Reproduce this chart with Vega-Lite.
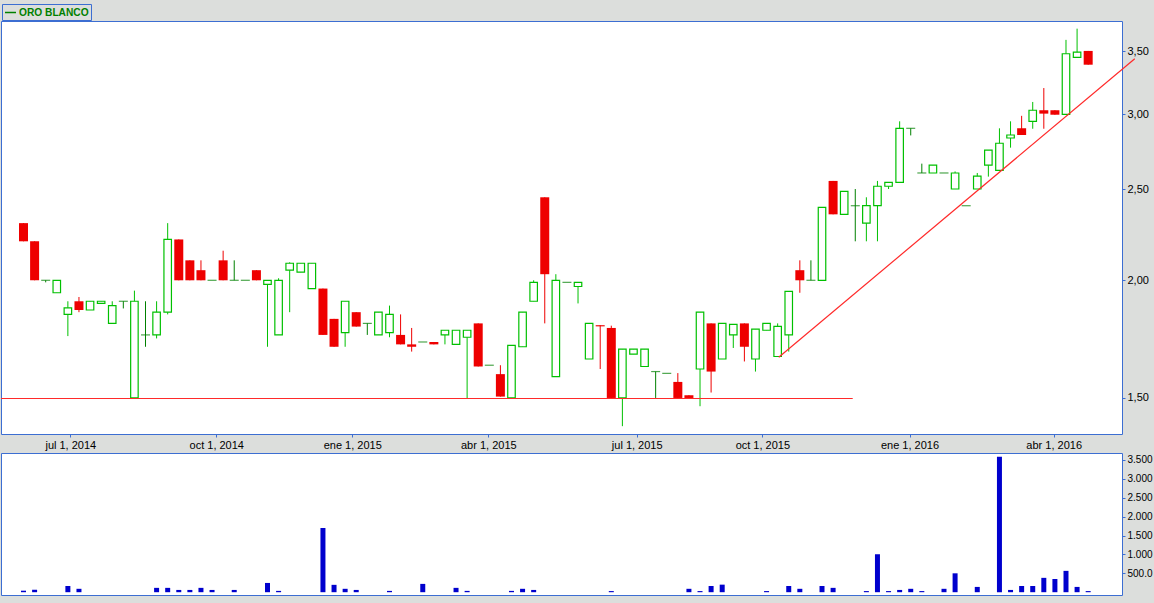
{
  "$schema": "https://vega.github.io/schema/vega-lite/v6.json",
  "background": "#dcdedc",
  "padding": {"left": -2, "top": 3, "right": 2, "bottom": 9},
  "bounds": "flush",
  "spacing": 19,
  "datasets": {
    "candles": [
      {"i":1,"o":2.30,"h":2.30,"l":2.20,"c":2.20,"v":40},
      {"i":2,"o":2.20,"h":2.20,"l":2.00,"c":2.00,"v":65},
      {"i":3,"o":2.00,"h":2.00,"l":1.99,"c":2.00,"v":0},
      {"i":4,"o":1.94,"h":2.00,"l":1.94,"c":2.00,"v":0},
      {"i":5,"o":1.84,"h":1.90,"l":1.745,"c":1.87,"v":165},
      {"i":6,"o":1.90,"h":1.92,"l":1.85,"c":1.86,"v":90},
      {"i":7,"o":1.86,"h":1.90,"l":1.86,"c":1.90,"v":0},
      {"i":8,"o":1.89,"h":1.90,"l":1.89,"c":1.90,"v":0},
      {"i":9,"o":1.80,"h":1.90,"l":1.80,"c":1.88,"v":0},
      {"i":10,"o":1.90,"h":1.90,"l":1.867,"c":1.90,"v":0},
      {"i":11,"o":1.50,"h":1.95,"l":1.50,"c":1.90,"v":0},
      {"i":12,"o":1.75,"h":1.90,"l":1.70,"c":1.75,"v":0},
      {"i":13,"o":1.75,"h":1.90,"l":1.735,"c":1.85,"v":115},
      {"i":14,"o":1.85,"h":2.30,"l":1.84,"c":2.21,"v":115},
      {"i":15,"o":2.21,"h":2.21,"l":2.00,"c":2.00,"v":60},
      {"i":16,"o":2.10,"h":2.10,"l":2.00,"c":2.00,"v":60},
      {"i":17,"o":2.05,"h":2.10,"l":2.00,"c":2.00,"v":115},
      {"i":18,"o":2.00,"h":2.00,"l":2.00,"c":2.00,"v":60},
      {"i":19,"o":2.10,"h":2.15,"l":2.00,"c":2.00,"v":0},
      {"i":20,"o":2.00,"h":2.10,"l":2.00,"c":2.00,"v":60},
      {"i":21,"o":2.00,"h":2.00,"l":2.00,"c":2.00,"v":0},
      {"i":22,"o":2.05,"h":2.05,"l":2.00,"c":2.00,"v":0},
      {"i":23,"o":1.98,"h":2.00,"l":1.70,"c":2.00,"v":245},
      {"i":24,"o":1.75,"h":2.01,"l":1.75,"c":2.00,"v":35},
      {"i":25,"o":2.05,"h":2.09,"l":1.85,"c":2.085,"v":0},
      {"i":26,"o":2.04,"h":2.085,"l":2.04,"c":2.085,"v":0},
      {"i":27,"o":1.96,"h":2.085,"l":1.96,"c":2.085,"v":0},
      {"i":28,"o":1.96,"h":1.96,"l":1.75,"c":1.75,"v":1700},
      {"i":29,"o":1.82,"h":1.82,"l":1.70,"c":1.70,"v":195},
      {"i":30,"o":1.76,"h":1.90,"l":1.70,"c":1.90,"v":90},
      {"i":31,"o":1.85,"h":1.85,"l":1.786,"c":1.786,"v":60},
      {"i":32,"o":1.80,"h":1.80,"l":1.75,"c":1.80,"v":0},
      {"i":33,"o":1.75,"h":1.85,"l":1.75,"c":1.85,"v":0},
      {"i":34,"o":1.76,"h":1.88,"l":1.74,"c":1.84,"v":35},
      {"i":35,"o":1.75,"h":1.84,"l":1.71,"c":1.71,"v":0},
      {"i":36,"o":1.71,"h":1.78,"l":1.68,"c":1.70,"v":0},
      {"i":37,"o":1.72,"h":1.72,"l":1.72,"c":1.72,"v":220},
      {"i":38,"o":1.72,"h":1.72,"l":1.71,"c":1.71,"v":0},
      {"i":39,"o":1.75,"h":1.77,"l":1.71,"c":1.77,"v":0},
      {"i":40,"o":1.71,"h":1.77,"l":1.71,"c":1.77,"v":115},
      {"i":41,"o":1.74,"h":1.77,"l":1.497,"c":1.77,"v":35},
      {"i":42,"o":1.80,"h":1.80,"l":1.62,"c":1.62,"v":0},
      {"i":43,"o":1.625,"h":1.625,"l":1.625,"c":1.625,"v":0},
      {"i":44,"o":1.59,"h":1.625,"l":1.505,"c":1.505,"v":0},
      {"i":45,"o":1.50,"h":1.706,"l":1.50,"c":1.706,"v":35},
      {"i":46,"o":1.70,"h":1.85,"l":1.70,"c":1.85,"v":90},
      {"i":47,"o":1.90,"h":2.00,"l":1.90,"c":1.99,"v":60},
      {"i":48,"o":2.45,"h":2.45,"l":1.80,"c":2.03,"v":0},
      {"i":49,"o":1.58,"h":2.03,"l":1.58,"c":2.00,"v":0},
      {"i":50,"o":1.99,"h":1.99,"l":1.99,"c":1.99,"v":0},
      {"i":51,"o":1.97,"h":1.99,"l":1.89,"c":1.99,"v":0},
      {"i":52,"o":1.65,"h":1.80,"l":1.65,"c":1.80,"v":0},
      {"i":53,"o":1.792,"h":1.792,"l":1.61,"c":1.787,"v":0},
      {"i":54,"o":1.78,"h":1.79,"l":1.50,"c":1.50,"v":30},
      {"i":55,"o":1.50,"h":1.69,"l":1.40,"c":1.69,"v":0},
      {"i":56,"o":1.67,"h":1.69,"l":1.67,"c":1.69,"v":0},
      {"i":57,"o":1.62,"h":1.69,"l":1.62,"c":1.69,"v":0},
      {"i":58,"o":1.60,"h":1.60,"l":1.50,"c":1.60,"v":0},
      {"i":59,"o":1.593,"h":1.593,"l":1.593,"c":1.593,"v":0},
      {"i":60,"o":1.56,"h":1.594,"l":1.50,"c":1.50,"v":0},
      {"i":61,"o":1.51,"h":1.51,"l":1.50,"c":1.50,"v":90},
      {"i":62,"o":1.61,"h":1.85,"l":1.47,"c":1.85,"v":30},
      {"i":63,"o":1.80,"h":1.80,"l":1.52,"c":1.60,"v":165},
      {"i":64,"o":1.65,"h":1.80,"l":1.65,"c":1.80,"v":200},
      {"i":65,"o":1.75,"h":1.796,"l":1.695,"c":1.796,"v":0},
      {"i":66,"o":1.80,"h":1.80,"l":1.64,"c":1.70,"v":0},
      {"i":67,"o":1.65,"h":1.775,"l":1.60,"c":1.775,"v":0},
      {"i":68,"o":1.77,"h":1.80,"l":1.77,"c":1.80,"v":30},
      {"i":69,"o":1.66,"h":1.80,"l":1.66,"c":1.787,"v":0},
      {"i":70,"o":1.75,"h":1.947,"l":1.68,"c":1.947,"v":165},
      {"i":71,"o":2.05,"h":2.10,"l":1.94,"c":2.00,"v":90},
      {"i":72,"o":2.00,"h":2.10,"l":2.00,"c":2.00,"v":0},
      {"i":73,"o":2.00,"h":2.39,"l":2.00,"c":2.39,"v":165},
      {"i":74,"o":2.55,"h":2.55,"l":2.35,"c":2.35,"v":115},
      {"i":75,"o":2.35,"h":2.486,"l":2.35,"c":2.486,"v":0},
      {"i":76,"o":2.40,"h":2.50,"l":2.20,"c":2.40,"v":0},
      {"i":77,"o":2.30,"h":2.45,"l":2.20,"c":2.40,"v":30},
      {"i":78,"o":2.40,"h":2.55,"l":2.20,"c":2.517,"v":1005},
      {"i":79,"o":2.517,"h":2.541,"l":2.50,"c":2.541,"v":30},
      {"i":80,"o":2.541,"h":2.95,"l":2.541,"c":2.90,"v":60},
      {"i":81,"o":2.90,"h":2.90,"l":2.85,"c":2.90,"v":90},
      {"i":82,"o":2.60,"h":2.66,"l":2.60,"c":2.60,"v":30},
      {"i":83,"o":2.60,"h":2.65,"l":2.60,"c":2.65,"v":0},
      {"i":84,"o":2.60,"h":2.60,"l":2.60,"c":2.60,"v":90},
      {"i":85,"o":2.50,"h":2.61,"l":2.50,"c":2.60,"v":500},
      {"i":86,"o":2.40,"h":2.40,"l":2.40,"c":2.40,"v":0},
      {"i":87,"o":2.50,"h":2.60,"l":2.50,"c":2.58,"v":140},
      {"i":88,"o":2.65,"h":2.75,"l":2.577,"c":2.75,"v":0},
      {"i":89,"o":2.617,"h":2.90,"l":2.617,"c":2.796,"v":3585},
      {"i":90,"o":2.832,"h":2.95,"l":2.766,"c":2.853,"v":60},
      {"i":91,"o":2.90,"h":2.99,"l":2.853,"c":2.853,"v":165},
      {"i":92,"o":2.95,"h":3.093,"l":2.897,"c":3.031,"v":165},
      {"i":93,"o":3.031,"h":3.20,"l":2.897,"c":3.006,"v":380},
      {"i":94,"o":3.031,"h":3.031,"l":2.998,"c":2.998,"v":350},
      {"i":95,"o":3.00,"h":3.60,"l":3.00,"c":3.48,"v":565},
      {"i":96,"o":3.45,"h":3.70,"l":3.45,"c":3.493,"v":140},
      {"i":97,"o":3.504,"h":3.504,"l":3.388,"c":3.388,"v":30}
    ],
    "lines": [
      {"g":"h","i":-1.03,"p":1.498},
      {"g":"h","i":75.77,"p":1.498},
      {"g":"d","i":69.1,"p":1.657},
      {"g":"d","i":101.2,"p":3.438}
    ]
  },
  "vconcat": [
    {
      "width": 1121,
      "height": 413,
      "data": {"name": "candles"},
      "layer": [
        {
          "mark": {"type": "rule", "strokeWidth": 1},
          "encoding": {
            "x": {"field": "i", "type": "quantitative", "title": null,
              "scale": {"domain": [-1.03, 100.05], "nice": false, "zero": false, "padding": 0},
              "axis": {"orient": "bottom", "values": [5.22, 18.38, 30.64, 42.91, 56.29, 67.62, 80.89, 93.89],
                "labelExpr": "datum.value < 10 ? 'jul 1, 2014' : datum.value < 25 ? 'oct 1, 2014' : datum.value < 36 ? 'ene 1, 2015' : datum.value < 50 ? 'abr 1, 2015' : datum.value < 60 ? 'jul 1, 2015' : datum.value < 75 ? 'oct 1, 2015' : datum.value < 88 ? 'ene 1, 2016' : 'abr 1, 2016'",
                "labelFlush": false, "labelOverlap": false, "labelFontSize": 11}},
            "y": {"field": "l", "type": "quantitative", "title": null,
              "scale": {"type": "log", "domain": [1.3735, 3.77], "nice": false, "zero": false},
              "axis": {"orient": "right", "values": [1.5, 2, 2.5, 3, 3.5],
                "labelExpr": "replace(format(datum.value, '.2f'), '.', ',')",
                "labelFlush": false, "labelOverlap": false, "labelFontSize": 11}},
            "y2": {"field": "h"},
            "color": {
              "condition": [
                {"test": "datum.c > datum.o", "value": "#00c000"},
                {"test": "datum.c < datum.o", "value": "#ee0000"}
              ],
              "datum": "ORO BLANCO",
              "scale": {"range": ["#008000"]},
              "legend": {"orient": "none", "legendX": 1, "legendY": -17, "title": null,
                "symbolType": "stroke", "symbolSize": 121, "symbolStrokeWidth": 1.5,
                "symbolStrokeColor": "#008000", "symbolOpacity": 1,
                "labelFont": "Liberation Sans", "labelFontSize": 10.2, "labelFontWeight": "bold",
                "labelColor": "#008000", "labelOffset": 2, "strokeColor": "#3c6ed2",
                "padding": 2}
            }
          }
        },
        {
          "transform": [{"filter": "datum.c > datum.o"}],
          "mark": {"type": "bar", "width": 7.5, "fill": "#ffffff", "stroke": "#00c000", "strokeWidth": 1.2},
          "encoding": {
            "x": {"field": "i", "type": "quantitative", "title": null, "scale": {"domain": [-1.03, 100.05], "nice": false, "zero": false, "padding": 0}},
            "y": {"field": "o", "type": "quantitative", "title": null, "scale": {"type": "log", "domain": [1.3735, 3.77], "nice": false, "zero": false}},
            "y2": {"field": "c"}
          }
        },
        {
          "transform": [{"filter": "datum.c < datum.o"}],
          "mark": {"type": "bar", "width": 9, "color": "#ee0000"},
          "encoding": {
            "x": {"field": "i", "type": "quantitative", "title": null, "scale": {"domain": [-1.03, 100.05], "nice": false, "zero": false, "padding": 0}},
            "y": {"field": "o", "type": "quantitative", "title": null, "scale": {"type": "log", "domain": [1.3735, 3.77], "nice": false, "zero": false}},
            "y2": {"field": "c"}
          }
        },
        {
          "transform": [{"filter": "datum.c == datum.o"}],
          "mark": {"type": "tick", "orient": "horizontal", "size": 9, "thickness": 1.2, "color": "#008000"},
          "encoding": {
            "x": {"field": "i", "type": "quantitative", "title": null, "scale": {"domain": [-1.03, 100.05], "nice": false, "zero": false, "padding": 0}},
            "y": {"field": "o", "type": "quantitative", "title": null, "scale": {"type": "log", "domain": [1.3735, 3.77], "nice": false, "zero": false}}
          }
        },
        {
          "data": {"name": "lines"},
          "mark": {"type": "line", "color": "#ff2a2a", "strokeWidth": 1.2},
          "encoding": {
            "x": {"field": "i", "type": "quantitative", "title": null, "scale": {"domain": [-1.03, 100.05], "nice": false, "zero": false, "padding": 0}},
            "y": {"field": "p", "type": "quantitative", "title": null, "scale": {"type": "log", "domain": [1.3735, 3.77], "nice": false, "zero": false}},
            "detail": {"field": "g"}
          }
        }
      ]
    },
    {
      "width": 1121,
      "height": 142,
      "data": {"name": "candles"},
      "transform": [{"filter": "datum.v > 0"}],
      "mark": {"type": "bar", "width": 5, "color": "#0000cd"},
      "encoding": {
        "x": {"field": "i", "type": "quantitative", "title": null, "scale": {"domain": [-1.03, 100.05], "nice": false, "zero": false, "padding": 0}, "axis": null},
        "y": {"field": "v", "type": "quantitative", "title": null,
          "scale": {"domain": [-74, 3685], "nice": false, "zero": false},
          "axis": {"orient": "right", "values": [500, 1000, 1500, 2000, 2500, 3000, 3500],
            "labelExpr": "datum.value == 500 ? '500.0' : replace(format(datum.value, ','), ',', '.')",
            "labelFlush": false, "labelOverlap": false, "labelFontSize": 10}},
        "y2": {"datum": 0}
      }
    }
  ],
  "config": {
    "view": {"stroke": "#3c6ed2", "strokeWidth": 1, "fill": "#ffffff"},
    "axis": {"labelFont": "Liberation Sans", "labelColor": "#000000", "tickColor": "#3c6ed2", "tickSize": 3, "domain": false, "grid": false, "labelPadding": 2}
  }
}
